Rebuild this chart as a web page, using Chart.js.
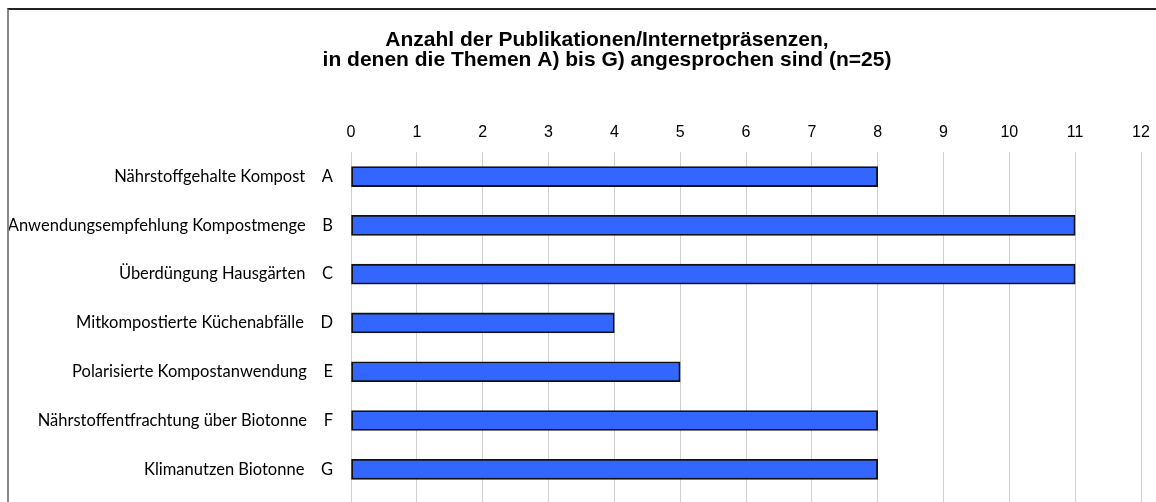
<!DOCTYPE html>
<html>
<head>
<meta charset="utf-8">
<script src="https://cdn.jsdelivr.net/npm/chart.js@4"></script>
<style>
  body { margin: 0; overflow: hidden; background: #fff; }
  #chart-themen { position: absolute; left: 0; top: 0; }
  #rahmen { position: absolute; left: 7px; top: 8px; width: 1300px; height: 600px;
            border-top: 2px solid #222; border-left: 2px solid #888; pointer-events: none; }
</style>
</head>
<body>
<canvas id="chart-themen" width="1214" height="502"></canvas>
<div id="rahmen"></div>
<script>
let themen = ["Nährstoffgehalte Kompost", "Anwendungsempfehlung Kompostmenge", "Überdüngung Hausgärten",
  "Mitkompostierte Küchenabfälle", "Polarisierte Kompostanwendung", "Nährstoffentfrachtung über Biotonne",
  "Klimanutzen Biotonne"]
let buchstaben = ["A", "B", "C", "D", "E", "F", "G"]
let anzahl = [8, 11, 11, 4, 5, 8, 8]
let titel = ["Anzahl der Publikationen/Internetpräsenzen,", "in denen die Themen A) bis G) angesprochen sind (n=25)"]

let punkte = anzahl.map((v, i) => ({ x: v, y: i }))

var ctx = document.getElementById('chart-themen').getContext('2d')

var chart = new Chart(ctx, {
  type: 'bar',
  data: {
    datasets: [{
      label: 'Anzahl',
      data: punkte,
      barThickness: 20,
      borderWidth: 1.8,
      borderColor: '#111',
      borderSkipped: false,
      backgroundColor: '#3366FF',
    }]
  },
  options: {
    indexAxis: 'y',
    responsive: false,
    animation: false,
    layout: { padding: 0 },
    scales: {
      x: {
        position: 'top',
        min: 0,
        max: 12,
        border: { display: false },
        grid: { color: '#d0d0d0', drawTicks: false, lineWidth: 1 },
        afterFit: (scale) => { scale.paddingRight = 1214 - 1141 },
        ticks: { stepSize: 1, padding: 10, color: '#000', font: { family: 'Liberation Sans', size: 16 } }
      },
      y: {
        type: 'linear',
        reverse: true,
        offset: false,
        min: -0.5,
        max: 6.67,
        border: { display: false },
        grid: { display: false, drawTicks: false },
        afterBuildTicks: (scale) => { scale.ticks = themen.map((t, i) => ({ value: i })) },
        afterFit: (scale) => { scale.width = 351; scale.paddingTop = 0; scale.paddingBottom = 0 },
        ticks: {
          padding: 18,
          color: '#000',
          font: { family: 'Lato', size: 16.5 },
          callback: (v) => themen[v] + ' \u2003' + buchstaben[v]
        }
      }
    },
    plugins: {
      legend: { display: false },
      tooltip: { enabled: false },
      title: {
        display: true,
        text: titel,
        color: '#000',
        font: { family: 'Liberation Sans', size: 21, weight: 'bold', lineHeight: '20px' },
        padding: { top: 30, bottom: 43 }
      }
    }
  }
})
</script>
</body>
</html>
